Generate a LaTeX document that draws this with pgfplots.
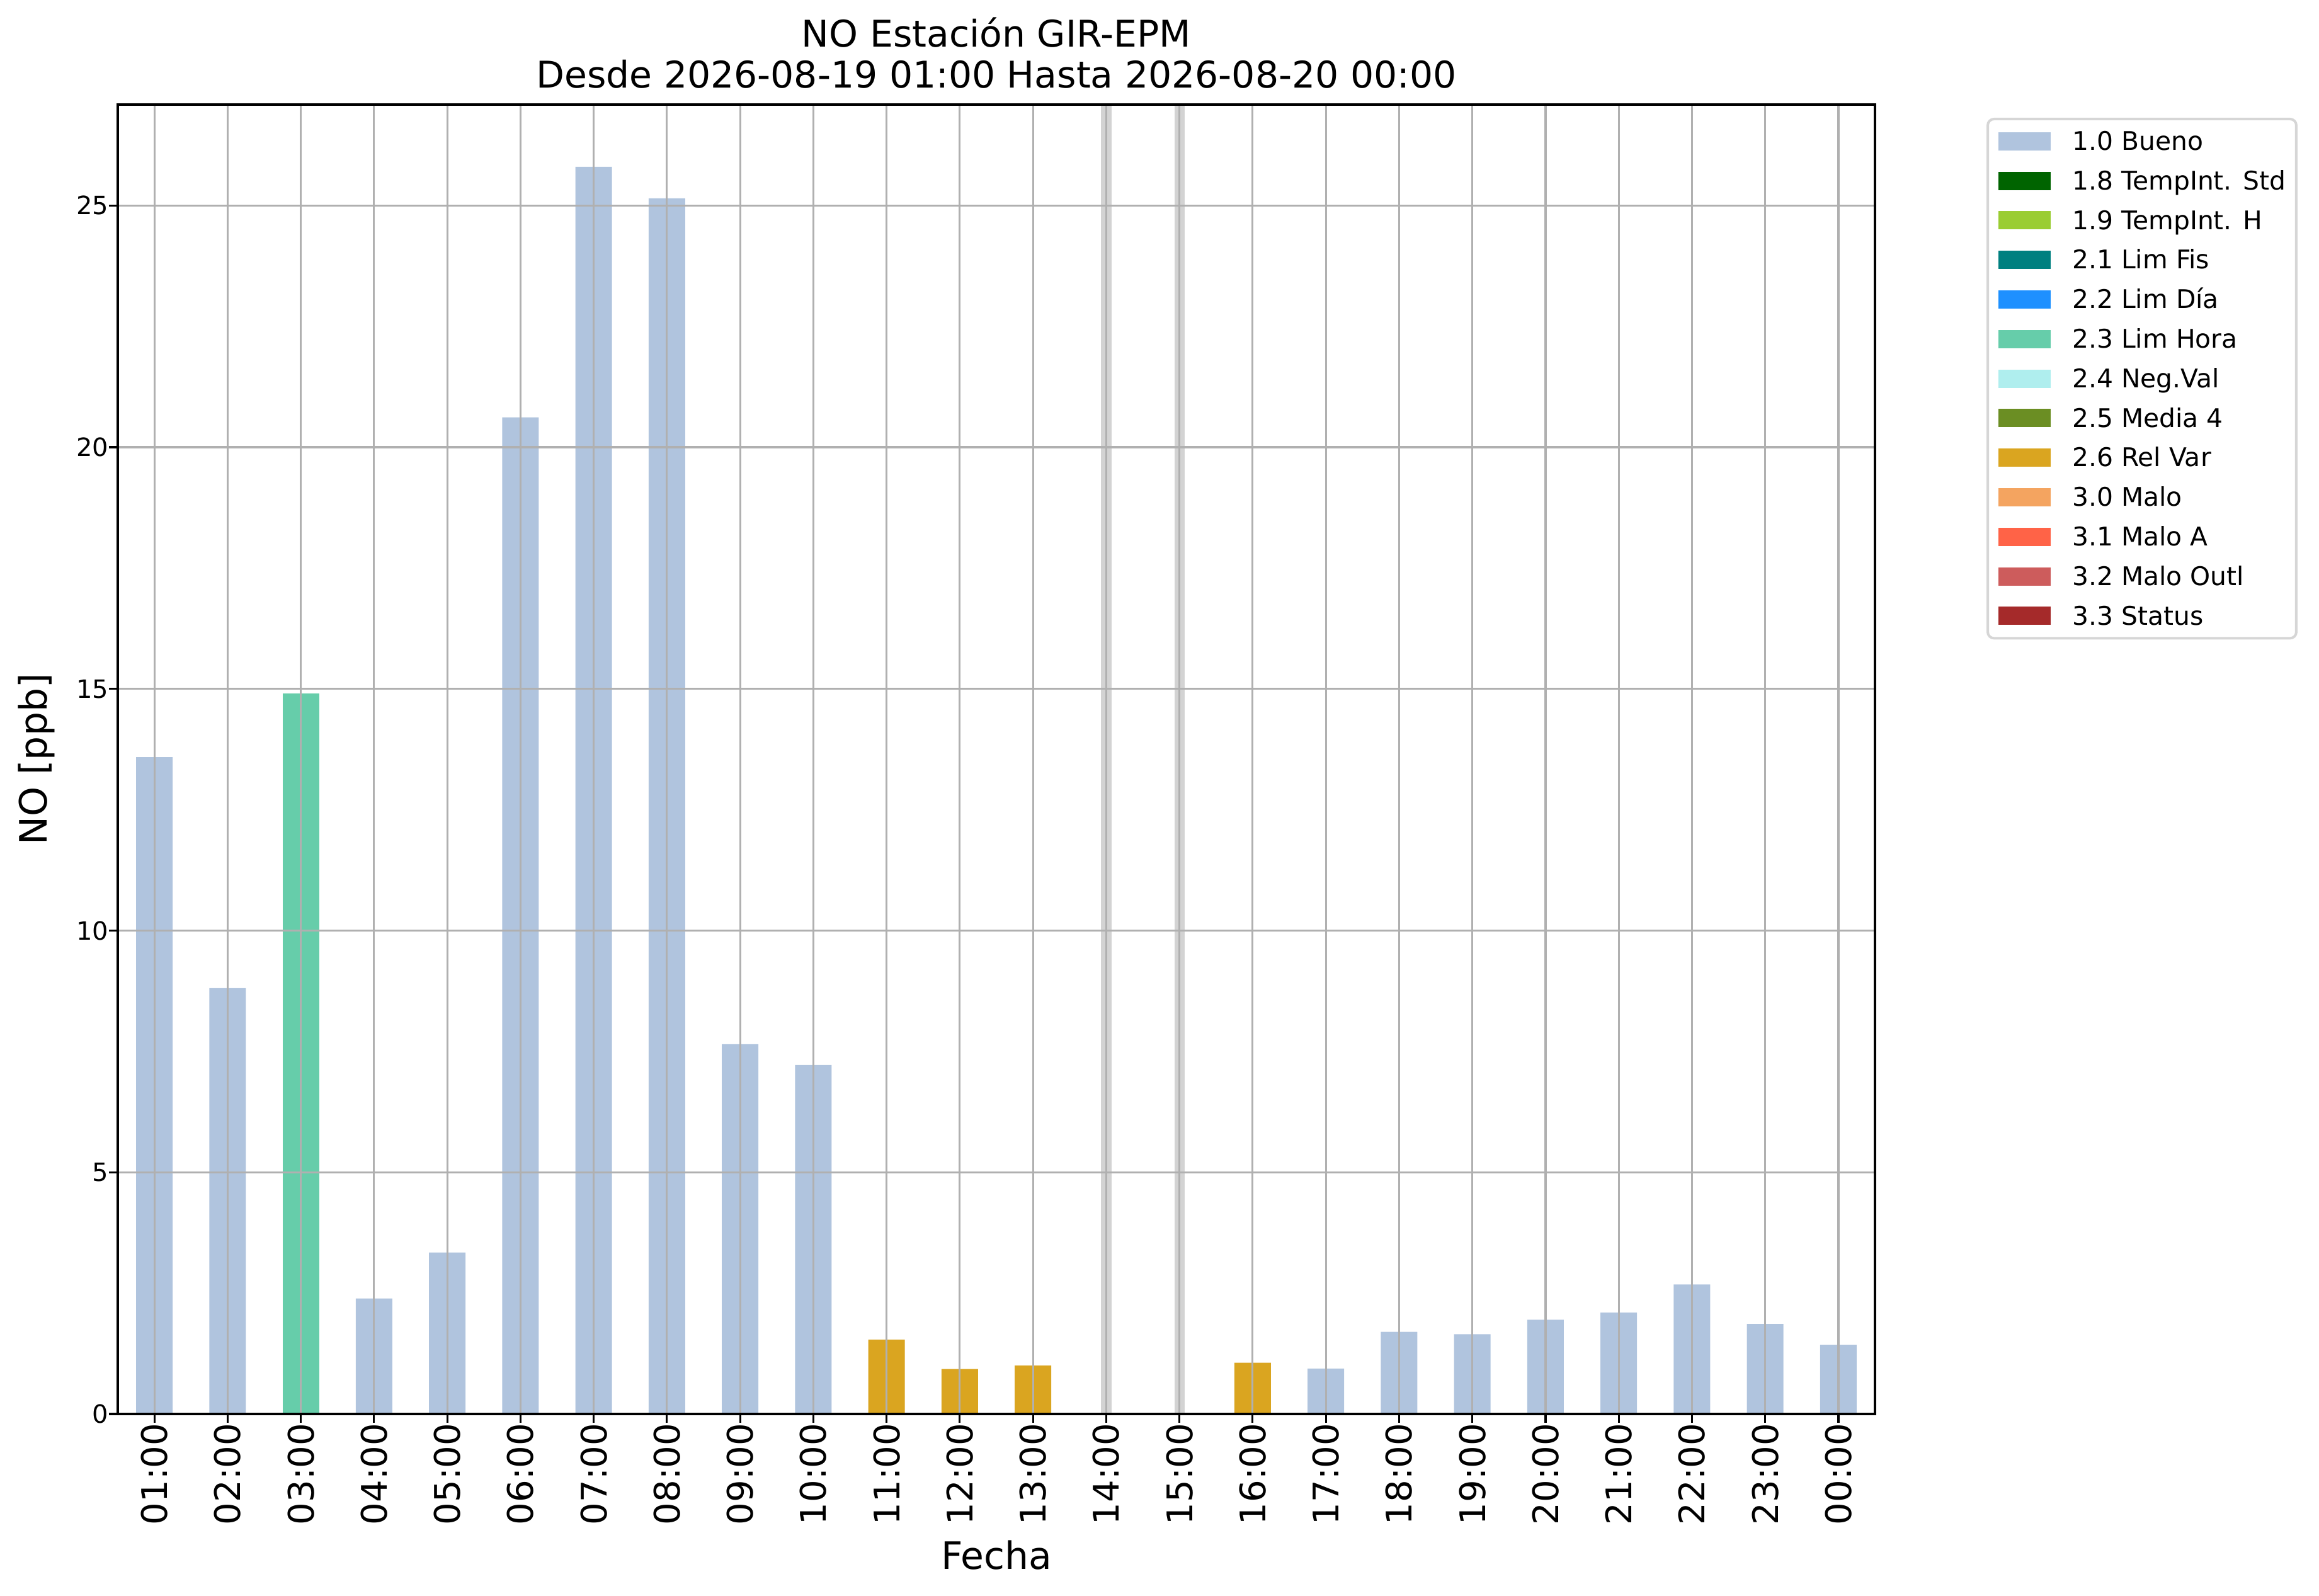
\documentclass[border=0pt]{standalone}
\usepackage{fontspec}
\setmainfont{DejaVu Sans}
\usepackage{pgfplots}
\pgfplotsset{compat=1.18}
\definecolor{bueno}{HTML}{B0C4DE}
\definecolor{tstd}{HTML}{006400}
\definecolor{th}{HTML}{9ACD32}
\definecolor{limfis}{HTML}{008080}
\definecolor{limdia}{HTML}{1E90FF}
\definecolor{limhora}{HTML}{66CDAA}
\definecolor{negval}{HTML}{AFEEEE}
\definecolor{media}{HTML}{6B8E23}
\definecolor{relvar}{HTML}{DAA520}
\definecolor{malo}{HTML}{F4A460}
\definecolor{maloa}{HTML}{FF6347}
\definecolor{malooutl}{HTML}{CD5C5C}
\definecolor{status}{HTML}{A52A2A}
\definecolor{gridgray}{HTML}{B0B0B0}
\definecolor{bandgray}{HTML}{D3D3D3}
\definecolor{legendgray}{HTML}{D6D6D6}
\pgfplotsset{myleg/.style={legend image code/.code={\fill[##1,draw=none,sharp corners] (0pt,-3.625pt) rectangle (20.75pt,3.625pt);}}}
\begin{document}
\begin{tikzpicture}
\useasboundingbox (-46.75pt,-72.25pt) rectangle (873.75pt,561.25pt);
\begin{axis}[
  at={(0pt,0pt)}, anchor=south west,
  scale only axis, width=697.5pt, height=519.75pt,
  xmin=-0.5, xmax=23.5, ymin=0, ymax=27.09,
  axis on top,
  axis line style={line width=0.8pt, black},
  xtick={0,...,23},
  xticklabels={01:00,02:00,03:00,04:00,05:00,06:00,07:00,08:00,09:00,10:00,11:00,12:00,13:00,14:00,15:00,16:00,17:00,18:00,19:00,20:00,21:00,22:00,23:00,00:00},
  ytick={0,5,10,15,20,25},
  tick align=outside, major tick length=3.5pt,
  tick style={line width=0.8pt, black},
  xtick pos=left, ytick pos=left,
  grid=major, major grid style={line width=0.8pt, gridgray},
  /pgf/number format/assume math mode=true,
  yticklabel style={font=\fontsize{10}{12}\selectfont, anchor=east, inner sep=0pt},
  xticklabel style={font=\fontsize{14}{16}\selectfont, rotate=90, anchor=east, inner sep=0pt},
  xlabel={Fecha}, ylabel={NO [ppb]},
  every axis x label/.style={at={(axis description cs:0.5,0)}, yshift=-61.75pt, anchor=base, font=\fontsize{15}{18}\selectfont},
  every axis y label/.style={at={(axis description cs:0,0.5)}, xshift=-28.25pt, rotate=90, anchor=base, font=\fontsize{15}{18}\selectfont},
  legend style={at={(axis description cs:1.06344,0.98990)}, anchor=north west,
    draw=legendgray, line width=1pt, rounded corners=2.5pt, fill=white,
    inner xsep=4.25pt, inner ysep=1pt,
    font=\fontsize{10.2}{12}\selectfont,
    column sep=8.6pt, row sep=0pt,
    nodes={inner sep=0pt, text height=11.4pt, text depth=4.3pt}},
  legend cell align=left,
]
% missing-data bands at 14:00 and 15:00
\addplot[sharp plot, fill=bandgray, draw=none, forget plot] coordinates {(12.93,0) (12.93,27.09) (13.07,27.09) (13.07,0)} -- cycle;
\addplot[sharp plot, fill=bandgray, draw=none, forget plot] coordinates {(13.93,0) (13.93,27.09) (14.07,27.09) (14.07,0)} -- cycle;

\addplot[ybar, bar width=0.5, bar shift=0pt, fill=bueno, draw=none, myleg] coordinates {
(0,13.59) (1,8.81) (3,2.39) (4,3.34) (5,20.62) (6,25.80) (7,25.15) (8,7.65) (9,7.22)
(16,0.94) (17,1.70) (18,1.65) (19,1.95) (20,2.10) (21,2.68) (22,1.86) (23,1.43)};
\addlegendentry{1.0 Bueno}
\addlegendimage{myleg, fill=tstd, draw=none}
\addlegendentry{1.8 TempInt. Std}
\addlegendimage{myleg, fill=th, draw=none}
\addlegendentry{1.9 TempInt. H}
\addlegendimage{myleg, fill=limfis, draw=none}
\addlegendentry{2.1 Lim Fis}
\addlegendimage{myleg, fill=limdia, draw=none}
\addlegendentry{2.2 Lim Día}
\addplot[ybar, bar width=0.5, bar shift=0pt, fill=limhora, draw=none, myleg] coordinates {(2,14.90)};
\addlegendentry{2.3 Lim Hora}
\addlegendimage{myleg, fill=negval, draw=none}
\addlegendentry{2.4 Neg.Val}
\addlegendimage{myleg, fill=media, draw=none}
\addlegendentry{2.5 Media 4}
\addplot[ybar, bar width=0.5, bar shift=0pt, fill=relvar, draw=none, myleg] coordinates {(10,1.54) (11,0.93) (12,1.00) (15,1.06)};
\addlegendentry{2.6 Rel Var}
\addlegendimage{myleg, fill=malo, draw=none}
\addlegendentry{3.0 Malo}
\addlegendimage{myleg, fill=maloa, draw=none}
\addlegendentry{3.1 Malo A}
\addlegendimage{myleg, fill=malooutl, draw=none}
\addlegendentry{3.2 Malo Outl}
\addlegendimage{myleg, fill=status, draw=none}
\addlegendentry{3.3 Status}
\end{axis}
\node[anchor=base, font=\fontsize{14.6}{16}\selectfont] at (348.75pt,542.5pt) {NO Estación GIR-EPM};
\node[anchor=base, font=\fontsize{14.6}{16}\selectfont] at (348.75pt,526.25pt) {Desde 2026-08-19 01:00 Hasta 2026-08-20 00:00};
\end{tikzpicture}
\end{document}
